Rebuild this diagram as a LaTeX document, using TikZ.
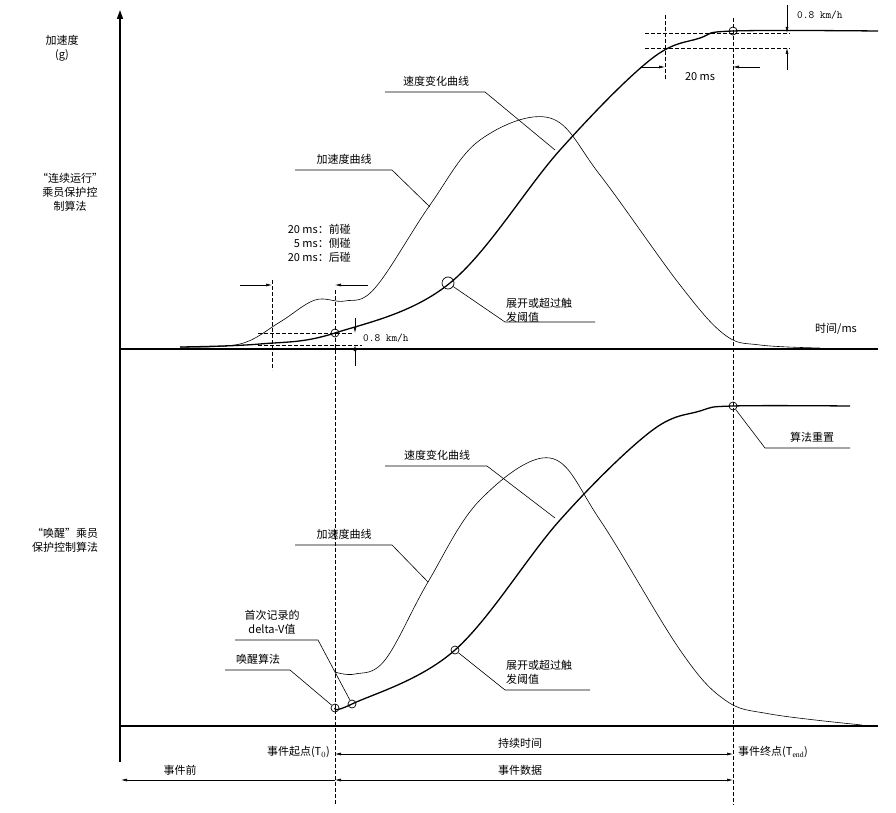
\documentclass[tikz,border=0pt]{standalone}
\usepackage{fontspec}
\setmainfont{Liberation Serif}
\newfontfamily\cjk{Noto Sans CJK SC}
\usetikzlibrary{arrows.meta}
\begin{document}
\begin{tikzpicture}[x=1pt,y=-1pt,
  every node/.style={font=\cjk\fontsize{11}{14}\selectfont,inner sep=1pt},
  axis/.style={line width=1.6pt},
  curve/.style={line width=1.3pt},
  thin/.style={line width=0.6pt},
  dsh/.style={dashed,line width=0.8pt,dash pattern=on 4pt off 2pt},
  ar/.style={-{Latex[length=6pt,width=3pt]},line width=0.6pt},
  ptmark/.style={circle,draw,line width=0.7pt,minimum size=8pt,inner sep=0pt}]
\useasboundingbox (0,0) rectangle (896,813);
% axes
\draw[axis,-{Triangle[length=9pt,width=6pt]}] (120,762) -- (120,10);
\draw[axis] (120,349) -- (878,349);
\draw[axis] (120,726) -- (878,726);
% T0, Tend
\coordinate (T0t) at (335,290); \coordinate (T0b) at (335,805);
\coordinate (Tet) at (733,18); \coordinate (Teb) at (733,805);
\draw[dsh] (T0t) -- (T0b);
\draw[dsh] (Tet) -- (Teb);
% top curves
\draw[curve] plot[smooth,tension=0.6] coordinates {(180,347)(260,344)(335,333)(450,283)(560,150)(650,60)(700,38)(733,31)(878,31)};
\draw[thin] plot[smooth,tension=0.6] coordinates {(180,347)(240,344)(280,322)(315,300)(345,301)(375,288)(430,205)(480,140)(550,118)(600,175)(680,285)(725,335)(760,345)(820,348)};
% bottom curves
\draw[curve] plot[smooth,tension=0.6] coordinates {(335,708)(352,704)(455,650)(560,520)(650,432)(700,411)(733,406)(850,406)};
\draw[thin] plot[smooth,tension=0.6] coordinates {(335,672)(355,674)(385,660)(428,582)(480,500)(550,458)(600,520)(680,650)(725,700)(770,714)(862,725)};
% marks
\node[ptmark] (m1) at (335,333) {};
\node[ptmark,minimum width=12pt,minimum height=8pt] (m2) at (448,283) {};
\node[ptmark] (m3) at (733,31) {};
\node[ptmark] (m4) at (733,406) {};
\node[ptmark] (m5) at (455,650) {};
\node[ptmark] (m6) at (335,708) {};
\node[ptmark] (m7) at (352,704) {};
% left labels
\node[align=center] (ly) at (62,48) {加速度\\(g)};
\node[align=center] (l1) at (70,192) {“连续运行”\\乘员保护控\\制算法};
\node[align=center] (l2) at (65,540) {“唤醒”乘员\\保护控制算法};
\node (tm) at (836,329) {时间/ms};
% top left dims
\node[align=right,anchor=east] (dd) at (352,243) {20 ms：前碰\\5 ms：侧碰\\20 ms：后碰};
\draw[dsh] (272,280) -- (272,370);
\draw[dsh] (258,333) -- (352,333);
\draw[dsh] (258,345) -- (362,345);
\coordinate (a1) at (240,285); \coordinate (a1e) at (272,285);
\coordinate (a2) at (368,285); \coordinate (a2e) at (335,285);
\draw[ar] (a1) -- (a1e); \draw[ar] (a2) -- (a2e);
\coordinate (v1) at (355,318); \coordinate (v1e) at (355,333);
\coordinate (v2) at (355,366); \coordinate (v2e) at (355,345);
\draw[ar] (v1) -- (v1e); \draw[ar] (v2) -- (v2e);
\node[anchor=west,font=\ttfamily\fontsize{11}{13}\selectfont] (k1) at (362,338) {0.8 km/h};
% top right dims
\draw[dsh] (645,33) -- (790,33);
\draw[dsh] (645,48) -- (790,48);
\draw[dsh] (665,15) -- (665,80);
\coordinate (b1) at (640,67); \coordinate (b1e) at (665,67);
\coordinate (b2) at (760,67); \coordinate (b2e) at (733,67);
\draw[ar] (b1) -- (b1e); \draw[ar] (b2) -- (b2e);
\node (k3) at (700,77) {20 ms};
\coordinate (c1) at (787,5); \coordinate (c1e) at (787,33);
\coordinate (c2) at (787,70); \coordinate (c2e) at (787,48);
\draw[ar] (c1) -- (c1e); \draw[ar] (c2) -- (c2e);
\node[anchor=west,font=\ttfamily\fontsize{11}{13}\selectfont] (k2) at (796,15) {0.8 km/h};
% top labels
\node (t1) at (436,81) {速度变化曲线};
\draw[thin] (385,92) -- (485,92) -- (555,150);
\node (t2) at (344,159) {加速度曲线};
\draw[thin] (295,170) -- (392,170) -- (430,207);
\node[anchor=west,align=left] (t3) at (505,310) {展开或超过触\\发阈值};
\draw[thin] (m2) -- (505,322) -- (595,322);
% bottom labels
\node (u1) at (437,455) {速度变化曲线};
\draw[thin] (385,466) -- (487,466) -- (555,518);
\node (u2) at (344,534) {加速度曲线};
\draw[thin] (295,545) -- (392,545) -- (428,582);
\node (u3) at (812,437) {算法重置};
\draw[thin] (m4) -- (765,448) -- (850,448);
\node[align=center] (u4) at (272,622) {首次记录的\\delta-V值};
\draw[thin] (235,640) -- (318,640) -- (m7);
\node (u5) at (258,659) {唤醒算法};
\draw[thin] (225,670) -- (290,670) -- (m6);
\node[anchor=west,align=left] (u6) at (505,672) {展开或超过触\\发阈值};
\draw[thin] (m5) -- (505,690) -- (590,690);
% bottom timeline
\node[anchor=east] (e1) at (331,752) {事件起点(\textit{T}$_0$)};
\node[anchor=west] (e2) at (737,752) {事件终点(\textit{T}$_{\mathrm{end}}$)};
\node (e3) at (520,743) {持续时间};
\node (e4) at (520,770) {事件数据};
\node (e5) at (180,770) {事件前};
\coordinate (p1) at (335,754); \coordinate (p2) at (733,754);
\draw[{Latex[length=6pt,width=3pt]}-{Latex[length=6pt,width=3pt]},thin] (p1) -- (p2);
\coordinate (q0) at (121,780); \coordinate (q1) at (335,780); \coordinate (q2) at (733,780);
\draw[ar] (q1) -- (q0);
\draw[{Latex[length=6pt,width=3pt]}-{Latex[length=6pt,width=3pt]},thin] (q1) -- (q2);
\end{tikzpicture}
\end{document}
